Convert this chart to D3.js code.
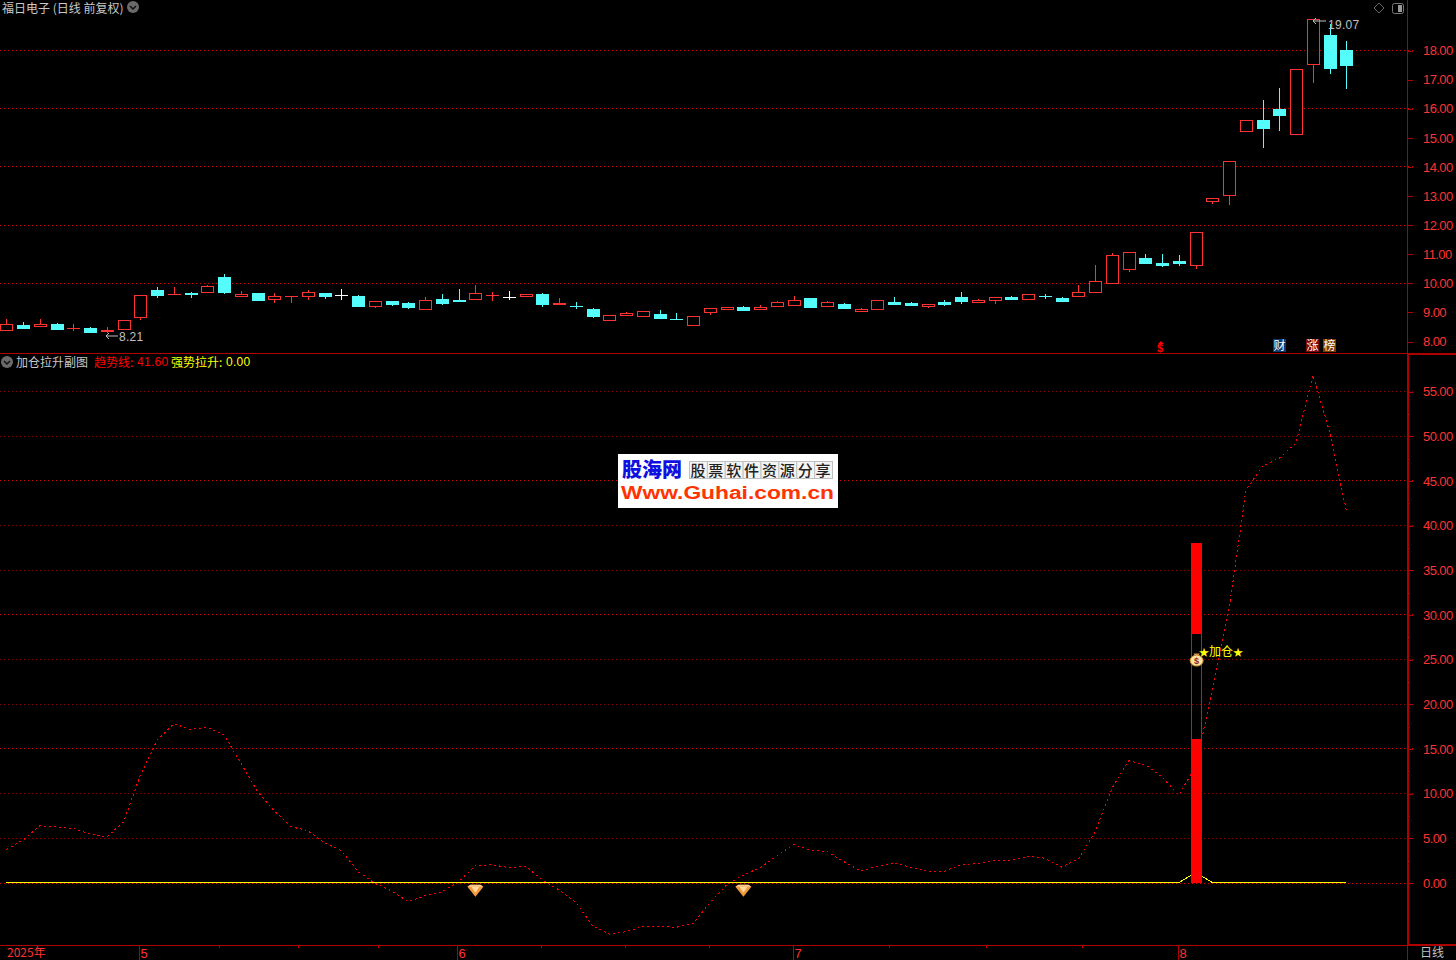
<!DOCTYPE html>
<html>
<head>
<meta charset="utf-8">
<style>
  html, body { margin: 0; background: #000; overflow: hidden; }
  text { font-family: "Noto Sans CJK SC", "Liberation Sans", sans-serif; }
  .num { font-family: "Liberation Sans", sans-serif; letter-spacing: 0.3px; }
  .axis-num { font-family: "Liberation Sans", sans-serif; letter-spacing: -0.6px; }
</style>
<script src="https://cdn.jsdelivr.net/npm/d3@7"></script>
</head>
<body>
<div id="chart"></div>
<script>
/** Daily candles */
const opens = [8.40,8.55,8.52,8.58,8.43,8.44,8.32,8.40,8.83,9.75,9.62,9.65,9.69,10.20,9.55,9.65,9.41,9.53,9.55,9.65,9.58,9.54,9.18,9.37,9.30,9.11,9.44,9.41,9.45,9.57,9.50,9.55,9.61,9.25,9.20,9.10,8.73,8.87,8.87,8.92,8.75,8.56,8.97,9.10,9.16,9.10,9.21,9.25,9.48,9.18,9.27,9.01,9.08,9.34,9.30,9.20,9.34,9.51,9.32,9.38,9.51,9.42,9.53,9.48,9.52,9.66,9.97,10.45,10.85,10.68,10.75,10.59,12.80,13.00,15.21,15.60,15.97,15.10,17.54,18.52,18.00];
const closes = [8.60,8.44,8.60,8.41,8.44,8.31,8.37,8.71,9.57,9.58,9.63,9.63,9.89,9.68,9.61,9.41,9.53,9.54,9.70,9.55,9.58,9.20,9.36,9.27,9.16,9.41,9.30,9.39,9.65,9.58,9.50,9.61,9.27,9.30,9.19,8.86,8.91,8.95,9.03,8.79,8.74,8.86,9.12,9.16,9.06,9.16,9.34,9.41,9.17,9.33,9.13,9.09,9.40,9.27,9.24,9.27,9.27,9.37,9.40,9.50,9.44,9.60,9.52,9.37,9.67,10.05,10.94,11.05,10.68,10.61,10.68,11.73,12.90,14.18,15.58,15.32,15.77,17.34,19.07,17.39,17.49];
const highs = [8.74,8.65,8.74,8.62,8.60,8.48,8.48,8.71,9.57,9.85,9.85,9.68,9.92,10.30,9.71,9.65,9.65,9.54,9.75,9.65,9.78,9.58,9.36,9.37,9.34,9.51,9.61,9.78,9.92,9.68,9.71,9.61,9.65,9.47,9.34,9.13,8.91,8.99,9.03,9.06,8.96,8.86,9.12,9.16,9.20,9.23,9.37,9.54,9.48,9.37,9.30,9.13,9.40,9.51,9.34,9.27,9.41,9.68,9.44,9.50,9.54,9.60,9.61,9.51,9.92,10.61,11.02,11.05,10.99,10.99,10.95,11.73,12.90,14.18,15.58,16.28,16.70,17.34,19.07,18.90,18.31];
const lows = [8.40,8.44,8.52,8.37,8.34,8.31,8.28,8.40,8.73,9.47,9.59,9.47,9.69,9.61,9.55,9.41,9.30,9.30,9.41,9.44,9.41,9.20,9.13,9.20,9.10,9.11,9.23,9.34,9.45,9.37,9.41,9.51,9.16,9.25,9.10,8.79,8.73,8.87,8.82,8.75,8.72,8.56,8.89,9.06,9.06,9.06,9.21,9.25,9.13,9.18,9.10,9.01,9.08,9.27,9.20,9.13,9.20,9.27,9.32,9.27,9.41,9.42,9.44,9.37,9.52,9.66,9.97,10.37,10.64,10.54,10.58,10.47,12.71,12.69,15.21,14.63,15.22,15.10,16.87,17.18,16.66];

/** Sub chart series */
const trendLine = [3.71,4.75,6.36,6.21,6.06,5.43,5.09,6.80,12.02,15.94,17.76,17.13,17.36,16.50,13.33,10.16,8.00,6.24,5.79,4.45,3.56,1.21,-0.09,-0.95,-2.15,-1.48,-1.06,0.09,1.88,1.99,1.66,1.81,0.28,-0.84,-2.22,-4.87,-5.80,-5.50,-4.94,-4.90,-5.01,-4.57,-2.26,-0.28,0.84,1.66,2.96,4.27,3.60,3.45,2.33,1.29,1.81,2.22,1.70,1.29,1.25,1.99,2.15,2.44,2.52,2.93,2.71,1.73,2.63,5.68,10.54,13.62,13.18,11.77,9.79,13.00,21.53,30.70,43.90,46.60,47.50,49.20,56.80,50.40,41.60];
const strongPull = trendLine.map((_, i) => (i === 71 ? 1.1 : 0));
const pullBars = [{ i: 71, from: 0, to: 16.05 }, { i: 71, from: 27.9, to: 37.97 }];
const pullOutline = { i: 71, from: 16.05, to: 27.9 };
const gemMarks = [{ i: 28, v: -0.8 }, { i: 44, v: -0.8 }];
const bagMark = { i: 71, v: 25 };

/** Axis ticks */
const priceTicks = [18, 17, 16, 15, 14, 13, 12, 11, 10, 9, 8];
const priceGrid = [18, 16, 14, 12, 10];
const subTicks = [55, 50, 45, 40, 35, 30, 25, 20, 15, 10, 5, 0];
const subMajor = [45, 30, 15, 0];
const subMinor = [2.5, 7.5, 12.5, 17.5, 22.5, 27.5, 32.5, 37.5, 42.5, 47.5, 52.5];
const monthTicks = [7.92, 26.9, 46.96, 69.95];
const monthLabels = ["5", "6", "7", "8"];
const weekTicks = [12.69, 17.41, 22.18, 31.92, 36.93, 41.95, 52.69, 58.48, 64.21];

/** Layout */
const width = 1456;
const height = 960;
const axisX = 1407;
const paneSplit = 353;
const bottomY = 945;
const candleWidth = 12;
const RED = "#ff3232";
const CYAN = "#54fcfc";
const LINE = "#b00000";
const GRID_MAJOR = "#d80000";
const GRID_MINOR = "#900000";

const xScale = d3.scaleLinear().domain([0, 80]).range([6.4, 1346.4]);
const yPrice = d3.scaleLinear().domain([8, 18]).range([341, 50]);
const ySub = d3.scaleLinear().domain([0, 55]).range([882.5, 391]);

const cx = (i) => Math.round(xScale(i)) + 0.5;

const svg = d3
  .select("#chart")
  .append("svg")
  .attr("width", width)
  .attr("height", height)
  .style("display", "block")
  .style("background", "#000");

/** Grid lines */
const drawGrid = (values, scale, color) => {
  svg
    .append("g")
    .selectAll("line")
    .data(values)
    .enter()
    .append("line")
    .attr("x1", 0)
    .attr("x2", axisX + 8)
    .attr("y1", (d) => Math.round(scale(d)) + 0.5)
    .attr("y2", (d) => Math.round(scale(d)) + 0.5)
    .attr("stroke", color)
    .attr("stroke-dasharray", "1 3")
    .attr("shape-rendering", "crispEdges");
};
drawGrid(priceGrid, yPrice, GRID_MAJOR);
drawGrid(subTicks.filter((d) => !subMajor.includes(d)), ySub, GRID_MINOR);
drawGrid(subMajor, ySub, GRID_MAJOR);

/** Right axes */
const drawAxis = (scale, ticks, size, labelled) => {
  const axis = d3
    .axisRight(scale)
    .tickValues(ticks)
    .tickSize(size)
    .tickPadding(15.5 - size);
  axis.tickFormat(labelled ? d3.format(".2f") : "");
  const g = svg
    .append("g")
    .attr("transform", `translate(${axisX + 0.5},0.5)`)
    .call(axis);
  g.select(".domain").remove();
  g.selectAll("line").attr("stroke", LINE).attr("shape-rendering", "crispEdges");
  g.selectAll("text")
    .attr("class", "axis-num")
    .attr("fill", RED)
    .attr("font-size", 13)
    .attr("dy", "0.33em");
};
drawAxis(yPrice, priceTicks, 5, true);
drawAxis(ySub, subTicks, 5, true);
drawAxis(ySub, subMinor, 2, false);

/** Candles */
const candles = svg
  .append("g")
  .selectAll("g")
  .data(opens.map((o, i) => ({ i, o, c: closes[i], h: highs[i], l: lows[i] })))
  .enter()
  .append("g")
  .attr("shape-rendering", "crispEdges")
  .attr("stroke", (d) => (d.c === d.o ? "#fff" : d.c > d.o ? RED : CYAN));

candles
  .append("line")
  .attr("x1", (d) => cx(d.i))
  .attr("x2", (d) => cx(d.i))
  .attr("y1", (d) => yPrice(d.h))
  .attr("y2", (d) => yPrice(d.l));

candles
  .append("rect")
  .attr("x", (d) => cx(d.i) - candleWidth / 2)
  .attr("y", (d) => Math.round(yPrice(Math.max(d.o, d.c))) + 0.5)
  .attr("width", candleWidth)
  // a zero height rect draws nothing, doji bars still need their bar
  .attr("height", (d) => Math.max(0.01, Math.round(Math.abs(yPrice(d.o) - yPrice(d.c)))))
  .attr("fill", (d) => (d.c < d.o ? CYAN : "#000"));

/** Pane frames */
const frame = svg.append("g").attr("stroke", LINE).attr("shape-rendering", "crispEdges");
frame.append("line").attr("x1", 0).attr("x2", width).attr("y1", paneSplit + 0.5).attr("y2", paneSplit + 0.5);
frame.append("line").attr("x1", axisX + 0.5).attr("x2", axisX + 0.5).attr("y1", 0).attr("y2", height);
frame.append("line").attr("x1", 0).attr("x2", width).attr("y1", bottomY + 0.5).attr("y2", bottomY + 0.5);
frame.append("line").attr("x1", axisX + 1.5).attr("x2", axisX + 1.5).attr("y1", paneSplit).attr("y2", bottomY);
frame.append("line").attr("x1", axisX).attr("x2", width).attr("y1", paneSplit + 1.5).attr("y2", paneSplit + 1.5);
frame.append("line").attr("x1", axisX).attr("x2", width).attr("y1", bottomY - 0.5).attr("y2", bottomY - 0.5);

/** Bottom date axis */
const monthAxis = d3
  .axisBottom(xScale)
  .tickValues(monthTicks)
  .tickSize(15)
  .tickFormat("");
const monthG = svg.append("g").attr("transform", `translate(0,${bottomY + 0.5})`).call(monthAxis);
monthG.select(".domain").remove();
monthG.selectAll("line").attr("stroke", LINE).attr("shape-rendering", "crispEdges");

const weekAxis = d3.axisBottom(xScale).tickValues(weekTicks).tickSize(-2).tickFormat("");
const weekG = svg.append("g").attr("transform", `translate(0,${bottomY + 3})`).call(weekAxis);
weekG.select(".domain").remove();
weekG.selectAll("line").attr("stroke", LINE).attr("shape-rendering", "crispEdges");

svg
  .append("g")
  .selectAll("text")
  .data(monthTicks)
  .enter()
  .append("text")
  .attr("class", "num")
  .attr("x", (d) => xScale(d) + 1.5)
  .attr("y", 958)
  .attr("fill", RED)
  .attr("font-size", 13)
  .text((_, i) => monthLabels[i]);

svg.append("text").attr("x", 7).attr("y", 957).attr("fill", RED).attr("font-size", 12).text("2025年");
svg.append("text").attr("x", 1420).attr("y", 957).attr("fill", "#c0c0c0").attr("font-size", 12).text("日线");

/** Sub chart lines */
const lineOf = d3
  .line()
  .x((_, i) => xScale(i))
  .y((d) => ySub(d));

svg
  .append("path")
  .datum(trendLine)
  .attr("d", lineOf)
  .attr("fill", "none")
  .attr("stroke", "#ff0000")
  .attr("stroke-dasharray", "2 3")
  .attr("shape-rendering", "crispEdges");

svg
  .append("path")
  .datum(strongPull)
  .attr("d", lineOf)
  .attr("fill", "none")
  .attr("stroke", "#ffff00")
  .attr("shape-rendering", "crispEdges");

/** Signal bar */
svg
  .append("g")
  .selectAll("rect")
  .data(pullBars)
  .enter()
  .append("rect")
  .attr("x", (d) => Math.round(xScale(d.i)) - 5)
  .attr("y", (d) => ySub(d.to))
  .attr("width", 11)
  .attr("height", (d) => ySub(d.from) - ySub(d.to))
  .attr("fill", "#ff0000")
  .attr("shape-rendering", "crispEdges");

svg
  .append("rect")
  .attr("x", Math.round(xScale(pullOutline.i)) - 4.5)
  .attr("y", ySub(pullOutline.to))
  .attr("width", 10)
  .attr("height", ySub(pullOutline.from) - ySub(pullOutline.to))
  .attr("fill", "none")
  .attr("stroke", "#ff0000")
  .attr("shape-rendering", "crispEdges");

/** Gem markers */
const gems = svg
  .append("g")
  .selectAll("g")
  .data(gemMarks)
  .enter()
  .append("g")
  .attr("transform", (d) => `translate(${xScale(d.i)},${ySub(d.v)})`);
gems.append("path").attr("d", "M-8,-3 L-5,-5 L5,-5 L8,-3 L0,7 Z").attr("fill", "#f09a3c");
gems.append("path").attr("d", "M-4,-3 L4,-3 L0,3 Z").attr("fill", "#ffd9a0");
gems.append("path").attr("d", "M-8,-3 L-5,-5 L5,-5 L8,-3 Z").attr("fill", "#fbc98a");

/** Money bag and signal label */
const bag = svg
  .append("g")
  .attr("transform", `translate(${xScale(bagMark.i) + 1},${ySub(bagMark.v) + 1.5})`);
bag.append("path").attr("d", "M-3,-7 L3,-7 L1.5,-4 L-1.5,-4 Z").attr("fill", "#d99a3a");
bag.append("ellipse").attr("rx", 6.5).attr("ry", 5.5).attr("fill", "#fbe3a0").attr("stroke", "#c98a2c");
bag
  .append("text")
  .attr("class", "num")
  .attr("text-anchor", "middle")
  .attr("y", 3.5)
  .attr("font-size", 9)
  .attr("font-weight", "bold")
  .attr("fill", "#8a2a20")
  .text("$");

const signal = svg
  .append("text")
  .attr("x", 1199)
  .attr("y", 656)
  .attr("fill", "#ffff00")
  .attr("font-size", 12);
signal.append("tspan").attr("font-size", 10).text("★");
signal.append("tspan").text("加仓");
signal.append("tspan").attr("font-size", 10).text("★");

/** Price pane notes */
const note = (x1, x2, y, tx, ty, label) => {
  svg
    .append("path")
    .attr("d", `M${x2},${y} L${x1},${y} M${x1 + 3},${y - 3} L${x1},${y} L${x1 + 3},${y + 3}`)
    .attr("fill", "none")
    .attr("stroke", "#c0c0c0");
  svg
    .append("text")
    .attr("class", "num")
    .attr("x", tx)
    .attr("y", ty)
    .attr("fill", "#c0c0c0")
    .attr("font-size", 12)
    .text(label);
};
note(106, 118, 336, 119, 341, "8.21");
note(1313, 1326, 21, 1328, 29, "19.07");

/** Event flags in the price pane */
svg.append("text").attr("class", "num").attr("x", 1157).attr("y", 352).attr("fill", "#ff0000").attr("font-size", 11).attr("font-weight", "bold").text("$");
svg.append("path").attr("d", "M1161,341 L1164,344 L1158,344 Z").attr("fill", "#ff0000");

const flags = [
  { x: 1273, label: "财", color: "#0a3a70" },
  { x: 1306, label: "涨", color: "#7a0a0a" },
  { x: 1323, label: "榜", color: "#7a3a00" },
];
const flagG = svg.append("g").selectAll("g").data(flags).enter().append("g");
flagG
  .append("rect")
  .attr("x", (d) => d.x)
  .attr("y", 339)
  .attr("width", 13)
  .attr("height", 13)
  .attr("fill", (d) => d.color);
flagG
  .append("text")
  .attr("x", (d) => d.x + 0.5)
  .attr("y", 350)
  .attr("font-size", 12)
  .attr("fill", "#fff")
  .text((d) => d.label);

/** Titles */
const chevron = (x, y) => {
  svg.append("circle").attr("cx", x).attr("cy", y).attr("r", 6).attr("fill", "#6a6a6a");
  svg
    .append("path")
    .attr("d", `M${x - 3},${y - 1} L${x},${y + 2} L${x + 3},${y - 1}`)
    .attr("fill", "none")
    .attr("stroke", "#111")
    .attr("stroke-width", 1.5);
};
chevron(133, 7);
chevron(7, 362);

svg.append("text").attr("x", 2).attr("y", 13).attr("fill", "#c8c8c8").attr("font-size", 12).text("福日电子 (日线 前复权)");
svg.append("text").attr("x", 16).attr("y", 367).attr("fill", "#c8c8c8").attr("font-size", 12).text("加仓拉升副图");
svg.append("text").attr("x", 94).attr("y", 367).attr("fill", "#ff0000").attr("font-size", 12).text("趋势线:");
svg.append("text").attr("class", "num").attr("x", 137).attr("y", 366).attr("fill", "#ff0000").attr("font-size", 12).text("41.60");
svg.append("text").attr("x", 171).attr("y", 367).attr("fill", "#ffff00").attr("font-size", 12).text("强势拉升:");
svg.append("text").attr("class", "num").attr("x", 226).attr("y", 366).attr("fill", "#ffff00").attr("font-size", 12).text("0.00");

/** Top right buttons */
svg.append("path").attr("d", "M1379,3 L1384,8 L1379,13 L1374,8 Z").attr("fill", "none").attr("stroke", "#666");
svg.append("rect").attr("x", 1392.5).attr("y", 3.5).attr("width", 11).attr("height", 10).attr("rx", 2).attr("fill", "none").attr("stroke", "#777");
svg.append("rect").attr("x", 1398).attr("y", 5).attr("width", 4).attr("height", 7).attr("fill", "#999");

/** Watermark */
const logo = svg.append("g");
logo.append("rect").attr("x", 618).attr("y", 454).attr("width", 220).attr("height", 54).attr("fill", "#fff");
logo.append("text").attr("x", 622).attr("y", 477).attr("font-size", 20).attr("font-weight", 900).attr("fill", "#1010e0").text("股海网");
const logoChars = "股票软件资源分享".split("");
const logoX = d3.scaleBand().domain(d3.range(logoChars.length)).range([689, 832]);
logo
  .selectAll("rect.cell")
  .data(logoChars)
  .enter()
  .append("rect")
  .attr("class", "cell")
  .attr("x", (_, i) => logoX(i) + 0.5)
  .attr("y", 461.5)
  .attr("width", logoX.bandwidth())
  .attr("height", 17)
  .attr("fill", "#f4f4f4")
  .attr("stroke", "#c0c0c0");
logo
  .selectAll("text.cell")
  .data(logoChars)
  .enter()
  .append("text")
  .attr("class", "cell")
  .attr("x", (_, i) => logoX(i) + logoX.bandwidth() / 2)
  .attr("y", 476)
  .attr("text-anchor", "middle")
  .attr("font-size", 15)
  .attr("font-weight", 500)
  .attr("fill", "#222")
  .text((d) => d);
logo
  .append("text")
  .attr("x", 621)
  .attr("y", 499)
  .attr("font-size", 18)
  .attr("font-weight", "bold")
  .attr("fill", "#ff3300")
  .attr("textLength", 213)
  .attr("lengthAdjust", "spacingAndGlyphs")
  .style("font-family", "'Liberation Sans', sans-serif")
  .text("Www.Guhai.com.cn");
</script>
</body>
</html>
